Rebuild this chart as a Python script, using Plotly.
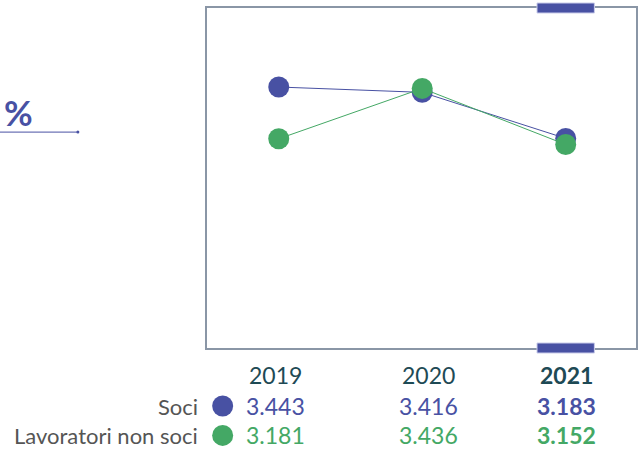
import plotly.graph_objects as go

# Headcount by year
years = ["2019", "2020", "2021"]
soci = [3443, 3416, 3183]
lavoratori = [3181, 3436, 3152]
series_names = ["Soci", "Lavoratori non soci"]

BLUE = "#4851A3"
GREEN = "#44A865"
YEAR_COL = "#1E4A55"
LABEL_COL = "#555555"
FRAME = "#8A96A6"
FONT = "Lato"


def fmt(v):
    # Italian thousands separator
    return f"{v:,}".replace(",", ".")


fig = go.Figure()
x_idx = list(range(len(years)))

fig.add_trace(go.Scatter(
    x=x_idx, y=soci, mode="lines+markers", name=series_names[0],
    line=dict(color=BLUE, width=1),
    marker=dict(color=BLUE, size=21),
    cliponaxis=False, hoverinfo="skip",
))
fig.add_trace(go.Scatter(
    x=x_idx, y=lavoratori, mode="lines+markers", name=series_names[1],
    line=dict(color=GREEN, width=1),
    marker=dict(color=GREEN, size=21),
    cliponaxis=False, hoverinfo="skip",
))

annotations = []
shapes = []

ROW_Y = {"year": -0.0794, "soci": -0.1706, "lav": -0.257}
COL_SHIFT = [-3, 6, 1]
last = len(years) - 1

for i, yr in enumerate(years):
    bold = i == last
    wrap = (lambda s: f"<b>{s}</b>") if bold else (lambda s: s)
    for key, txt, col in (
        ("year", yr, YEAR_COL),
        ("soci", fmt(soci[i]), BLUE),
        ("lav", fmt(lavoratori[i]), GREEN),
    ):
        annotations.append(dict(
            x=i, xref="x", y=ROW_Y[key], yref="paper",
            text=wrap(txt), showarrow=False, xanchor="center", yanchor="middle",
            xshift=COL_SHIFT[i],
            font=dict(family=FONT, size=23, color=col, weight=700 if bold else 400),
        ))

# Row labels with colour dots
for key, name, col in (("soci", series_names[0], BLUE), ("lav", series_names[1], GREEN)):
    annotations.append(dict(
        x=-0.0163, xref="paper", y=ROW_Y[key], yref="paper",
        text=name, showarrow=False, xanchor="right", yanchor="middle",
        font=dict(family=FONT, size=22, color=LABEL_COL, weight=400),
    ))
    shapes.append(dict(
        type="circle", xref="paper", yref="paper",
        xsizemode="pixel", ysizemode="pixel",
        xanchor=0.0365, yanchor=ROW_Y[key],
        x0=-10.5, x1=10.5, y0=-10.5, y1=10.5,
        fillcolor=col, line=dict(width=0),
    ))

# Highlight tabs on the latest year
for anchor in (1.0, 0.0):
    shapes.append(dict(
        type="rect", xref="x", yref="paper",
        ysizemode="pixel", yanchor=anchor,
        x0=last - 0.2, x1=last + 0.2, y0=-5, y1=5,
        fillcolor=BLUE, line=dict(color="#C9CCEA", width=1),
    ))

# Percent marker with underline on the left
annotations.append(dict(
    x=-0.44, xref="paper", y=0.695, yref="paper",
    text="<b>%</b>", showarrow=False, xanchor="center", yanchor="middle",
    font=dict(family=FONT, size=35, color=BLUE),
))
shapes.append(dict(
    type="line", xref="paper", yref="paper",
    x0=-0.49, x1=-0.301, y0=0.635, y1=0.635,
    line=dict(color=BLUE, width=1),
))
shapes.append(dict(
    type="circle", xref="paper", yref="paper",
    xsizemode="pixel", ysizemode="pixel", xanchor=-0.301, yanchor=0.635,
    x0=-1.5, x1=1.5, y0=-1.5, y1=1.5, fillcolor=BLUE, line=dict(width=0),
))

axis_common = dict(
    showgrid=False, zeroline=False, showticklabels=False, ticks="",
    showline=True, mirror=True, linecolor=FRAME, linewidth=1.5,
)

fig.update_layout(
    width=640, height=450,
    margin=dict(l=207, r=2, t=8, b=102),
    paper_bgcolor="white", plot_bgcolor="white",
    showlegend=False,
    xaxis=dict(range=[-0.5, 2.49], **axis_common),
    yaxis=dict(range=[2122, 3843], **axis_common),
    annotations=annotations,
    shapes=shapes,
)

fig.write_html("out.html")
